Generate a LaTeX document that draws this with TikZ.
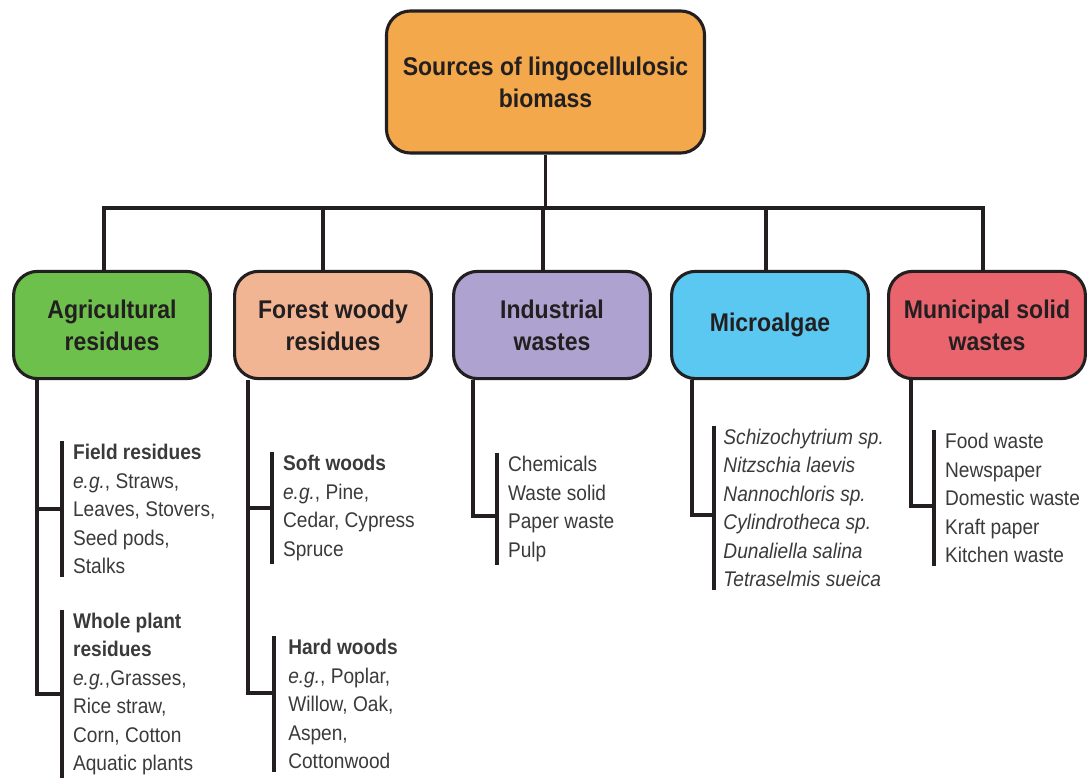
\documentclass[tikz,border=0pt]{standalone}
\usepackage{fontspec}
\setmainfont{Liberation Sans}[FakeStretch=0.9]
\usetikzlibrary{calc}
\definecolor{edge}{HTML}{231F20}
\definecolor{topfill}{HTML}{F2A84B}
\definecolor{agrifill}{HTML}{6DC04C}
\definecolor{forestfill}{HTML}{F2B594}
\definecolor{indufill}{HTML}{ADA2D0}
\definecolor{microfill}{HTML}{5BC8F1}
\definecolor{munifill}{HTML}{E9646D}
\definecolor{itemtext}{HTML}{3A3A3A}
\tikzset{
    link/.style={draw=edge, line width=2.2pt},
    box/.style={draw=edge, line width=2.2pt, rounded corners=0.6cm,
        minimum width=4.92cm, minimum height=2.68cm, align=center,
        text=edge, font=\fontsize{18.2}{22.7}\selectfont\bfseries},
    items/.style={anchor=west, align=left, inner xsep=0.27cm, inner ysep=2pt,
        text=itemtext, font=\fontsize{15.1}{20.3}\selectfont}
}
\begin{document}
\begin{tikzpicture}[x=0.025cm, y=-0.025cm]
    \useasboundingbox (0, 0) rectangle (1088, 780);
    % top box and the five groups
    \node[box, fill=topfill, minimum width=7.95cm, minimum height=3.55cm]
        (top) at (545.5, 82) {Sources of lingocellulosic\\biomass};
    \node[box, fill=agrifill] (agri) at (112, 325) {Agricultural\\residues};
    \node[box, fill=forestfill] (forest) at (333, 325) {Forest woody\\residues};
    \node[box, fill=indufill] (indu) at (552, 325) {Industrial\\wastes};
    \node[box, fill=microfill] (micro) at (770, 325) {Microalgae};
    \node[box, fill=munifill] (muni) at (987, 325) {Municipal solid\\wastes};
    \coordinate (bar) at (0, 208);
    \draw[link] (top.south) -- (top.south |- bar);
    \draw[link] ($(agri.north)+(-8, 0)$) |- ($(muni.north |- bar)+(-4, 0)$)
        -- ($(muni.north)+(-4, 0)$);
    \foreach \b/\d in {forest/-10, indu/-9, micro/-4} {
        \draw[link] ($(\b.north)+(\d, 0)$) -- ($(\b.north |- bar)+(\d, 0)$);
    }
    % lists
    \node[items] (field) at (62, 509)
        {\textbf{Field residues}\\\textit{e.g.}, Straws,\\Leaves, Stovers,\\Seed pods,\\Stalks};
    \node[items] (whole) at (62, 694)
        {\textbf{Whole plant}\\\textbf{residues}\\\textit{e.g.},Grasses,\\Rice straw,\\Corn, Cotton\\Aquatic plants};
    \node[items] (soft) at (272, 508)
        {\textbf{Soft woods}\\\textit{e.g.}, Pine,\\Cedar, Cypress\\Spruce};
    \node[items, inner xsep=0.35cm] (hard) at (274, 704)
        {\textbf{Hard woods}\\\textit{e.g.}, Poplar,\\Willow, Oak,\\Aspen,\\Cottonwood};
    \node[items] (indulist) at (497, 509)
        {Chemicals\\Waste solid\\Paper waste\\Pulp};
    \node[items, inner xsep=0.23cm] (microlist) at (714, 508)
        {\itshape Schizochytrium sp.\\\itshape Nitzschia laevis\\\itshape Nannochloris sp.\\
         \itshape Cylindrotheca sp.\\\itshape Dunaliella salina\\\itshape Tetraselmis sueica};
    \node[items] (munilist) at (934, 498)
        {Food waste\\Newspaper\\Domestic waste\\Kraft paper\\Kitchen waste};
    \foreach \g in {field, whole, soft, hard, indulist, microlist, munilist} {
        \draw[link] (\g.north west) -- (\g.south west);
    }
    % trunks below the boxes
    \coordinate (agritrunk) at ($(agri.south west)+(25, 0)$);
    \coordinate (foresttrunk) at ($(forest.south west)+(15, 0)$);
    \draw[link] (agritrunk) |- (whole.west);
    \draw[link] (agritrunk |- field.west) -- (field.west);
    \draw[link] (foresttrunk) |- ($(hard.west)+(0, -11)$);
    \draw[link] (foresttrunk |- soft.west) -- (soft.west);
    \draw[link] ($(indu.south west)+(21, 0)$) |- ($(indulist.west)+(0, 7)$);
    \draw[link] ($(micro.south west)+(22, 0)$) |- ($(microlist.west)+(0, 7)$);
    \draw[link] ($(muni.south west)+(24, 0)$) |- ($(munilist.west)+(0, 8)$);
\end{tikzpicture}
\end{document}
